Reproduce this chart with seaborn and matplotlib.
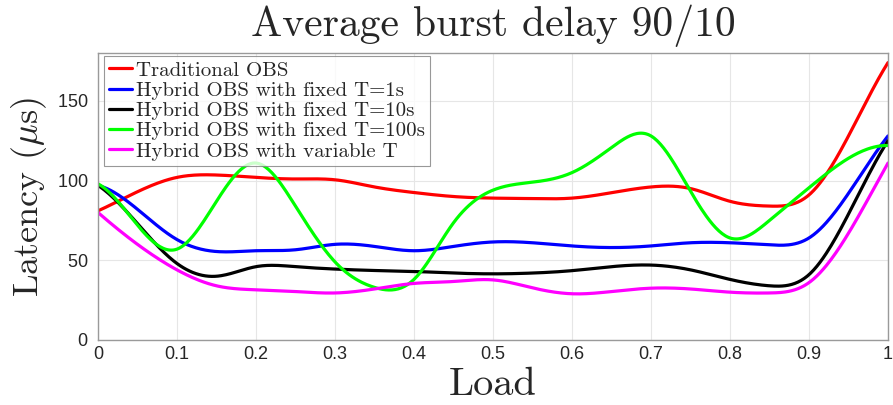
import numpy as np
import pandas as pd
import matplotlib
matplotlib.use("Agg")
import matplotlib.pyplot as plt
import seaborn as sns

# ---- data (nodes at each 0.05 of load) ----
load = [0.00, 0.05, 0.10, 0.15, 0.20, 0.25, 0.30, 0.35, 0.40, 0.45, 0.50,
        0.55, 0.60, 0.65, 0.70, 0.75, 0.80, 0.85, 0.90, 0.95, 1.00]
traditional = [81, 93, 102, 103.5, 102, 101, 100.5, 96, 92.5, 90, 89,
               88.7, 89, 92.4, 96, 95, 87, 84, 91, 128, 174]
fixed_1s = [97, 82, 63, 55.5, 56, 56.6, 60, 58.7, 56, 58.7, 61.5,
            61, 59, 58, 59, 61, 61, 59.7, 64, 92, 128]
fixed_10s = [97, 73, 48, 40, 46, 46, 44.5, 43.6, 43, 42, 41.5,
             42, 43.5, 46, 47, 44, 38, 34, 41, 79, 125]
fixed_100s = [98, 72, 57, 87, 111, 84, 49, 33, 38, 73.5, 94,
              99, 105, 120.7, 128, 93.3, 64, 75, 95.5, 114, 122]
variable_T = [80, 60, 44, 34, 31.5, 30.4, 29.5, 32, 35.5, 36.7, 37.7,
              32.7, 29, 30.4, 32.5, 32, 30, 29.5, 36, 67, 111]

series_names = ["Traditional OBS", "Hybrid OBS with fixed T=1s",
                "Hybrid OBS with fixed T=10s", "Hybrid OBS with fixed T=100s",
                "Hybrid OBS with variable T"]
series_values = [traditional, fixed_1s, fixed_10s, fixed_100s, variable_T]
colors = ["#ff0000", "#0000ff", "#000000", "#00ff00", "#ff00ff"]
x_ticks = [0, 0.1, 0.2, 0.3, 0.4, 0.5, 0.6, 0.7, 0.8, 0.9, 1]
x_tick_labels = ["0", "0.1", "0.2", "0.3", "0.4", "0.5", "0.6", "0.7", "0.8", "0.9", "1"]
y_ticks = [0, 50, 100, 150]


def spline_not_a_knot(x, y, xs):
    """Cubic spline (not-a-knot ends), like MATLAB's spline()."""
    x = np.asarray(x, float); y = np.asarray(y, float)
    n = len(x); h = np.diff(x)
    A = np.zeros((n, n)); b = np.zeros(n)
    A[0, 0] = -h[1]; A[0, 1] = h[0] + h[1]; A[0, 2] = -h[0]
    A[-1, -3] = -h[-1]; A[-1, -2] = h[-2] + h[-1]; A[-1, -1] = -h[-2]
    for i in range(1, n - 1):
        A[i, i - 1] = h[i - 1]
        A[i, i] = 2 * (h[i - 1] + h[i])
        A[i, i + 1] = h[i]
        b[i] = 6 * ((y[i + 1] - y[i]) / h[i] - (y[i] - y[i - 1]) / h[i - 1])
    M = np.linalg.solve(A, b)
    idx = np.clip(np.searchsorted(x, xs) - 1, 0, n - 2)
    x0 = x[idx]; x1 = x[idx + 1]; hh = h[idx]
    return (M[idx] * (x1 - xs) ** 3 / (6 * hh) + M[idx + 1] * (xs - x0) ** 3 / (6 * hh)
            + (y[idx] / hh - M[idx] * hh / 6) * (x1 - xs)
            + (y[idx + 1] / hh - M[idx + 1] * hh / 6) * (xs - x0))


xs = np.linspace(0, 1, 501)
frames = []
for name, vals in zip(series_names, series_values):
    frames.append(pd.DataFrame({"Load": xs,
                                "Latency": spline_not_a_knot(load, vals, xs),
                                "Series": name}))
df = pd.concat(frames, ignore_index=True)

sns.set_style("white")
plt.rcParams["mathtext.fontset"] = "cm"
plt.rcParams["axes.formatter.use_mathtext"] = True

fig = plt.figure(figsize=(8.93, 4.05), dpi=100)
ax = fig.add_axes([0.1097, 0.1605, 0.8847, 0.7085])

sns.lineplot(data=df, x="Load", y="Latency", hue="Series", hue_order=series_names,
             palette=colors, linewidth=2.3, estimator=None, sort=False, ax=ax)

ax.set_xlim(0, 1)
ax.set_ylim(0, 180)
ax.set_xticks(x_ticks)
ax.set_xticklabels(x_tick_labels)
ax.set_yticks(y_ticks)
ax.grid(True, color="#e6e6e6", linewidth=0.8)
ax.set_axisbelow(True)
for s in ax.spines.values():
    s.set_color("#9a9a9a")
    s.set_linewidth(1.0)
ax.tick_params(axis="x", direction="in", length=5, color="#9a9a9a",
               labelsize=13, pad=4)
ax.tick_params(axis="y", direction="out", length=5, color="#9a9a9a",
               labelsize=13, pad=2)
for lab in ax.get_xticklabels() + ax.get_yticklabels():
    lab.set_fontfamily("Liberation Sans")
    lab.set_color("#262626")

ax.set_title("Average burst delay 90/10", fontfamily="cmr10", fontsize=30, pad=12)
ax.set_xlabel("Load", fontfamily="cmr10", fontsize=29, labelpad=3)
ax.set_ylabel(r"Latency ($\mu$s)", fontfamily="cmr10", fontsize=26, labelpad=6)

leg = ax.legend(loc="upper left", bbox_to_anchor=(0.008, 0.99), frameon=True,
                fancybox=False, prop={"family": "cmr10", "size": 15},
                handlelength=1.1, handletextpad=0.15, labelspacing=0.08,
                borderpad=0.25, borderaxespad=0.0)
leg.get_frame().set_edgecolor("#7f7f7f")
leg.get_frame().set_linewidth(0.8)
for line in leg.get_lines():
    line.set_linewidth(2.3)

fig.savefig("out.png", dpi=100)
